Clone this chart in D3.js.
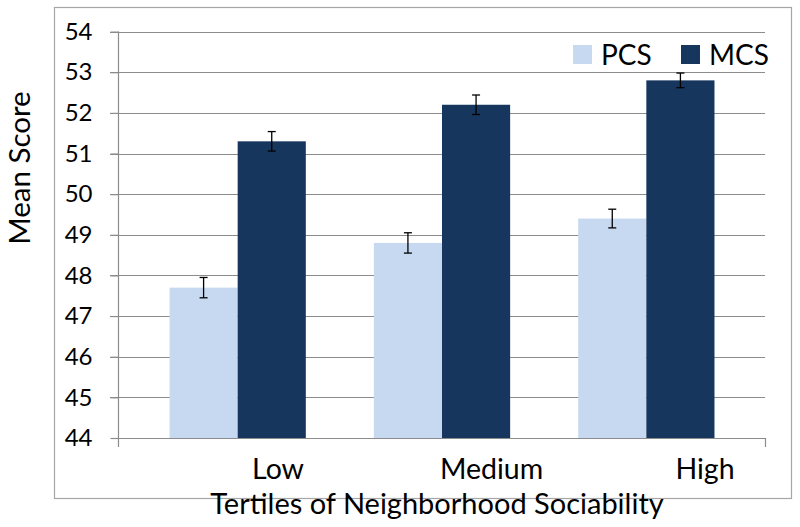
<!DOCTYPE html>
<html>
<head>
<meta charset="utf-8">
<script src="https://cdn.jsdelivr.net/npm/d3@7"></script>
<style>
  html, body { margin: 0; padding: 0; background: #ffffff; }
  svg { display: block; font-family: Lato, "Open Sans", sans-serif; }
</style>
</head>
<body>
<svg id="chart" width="800" height="527"></svg>
<script>
// ---- data ----
const categories = ["Low", "Medium", "High"];
const seriesNames = ["PCS", "MCS"];
const pcsValues = [47.7, 48.8, 49.4];
const mcsValues = [51.3, 52.2, 52.8];
const pcsErrors = [0.25, 0.25, 0.23];
const mcsErrors = [0.24, 0.24, 0.18];
const yTicks = [44, 45, 46, 47, 48, 49, 50, 51, 52, 53, 54];
const xTitle = "Tertiles of Neighborhood Sociability";
const yTitle = "Mean Score";

const colors = { PCS: "#c6d9f1", MCS: "#17365d" };

const rows = categories.map((c, i) => ({
  cat: c,
  values: [
    { key: "PCS", v: pcsValues[i], e: pcsErrors[i] },
    { key: "MCS", v: mcsValues[i], e: mcsErrors[i] }
  ]
}));

const svg = d3.select("#chart");

// outer border
svg.append("rect")
  .attr("x", 54.5).attr("y", 7.5)
  .attr("width", 737).attr("height", 491)
  .attr("fill", "none").attr("stroke", "#a6a6a6").attr("stroke-width", 1.2);

const plotLeft = 118, plotRight = 765;
const y = d3.scaleLinear().domain([44, 54]).range([438, 31.6]);
const x0 = d3.scaleBand().domain(categories).range([135.5, 748.5]).paddingInner(0.333).paddingOuter(0.1665);
const x1 = d3.scaleBand().domain(seriesNames).range([0, x0.bandwidth()]);

// gridlines
svg.append("g").selectAll("line")
  .data(yTicks.filter(t => t !== 44))
  .join("line")
  .attr("x1", plotLeft - 8).attr("x2", plotRight)
  .attr("y1", d => Math.round(y(d)) + 0.5).attr("y2", d => Math.round(y(d)) + 0.5)
  .attr("stroke", "#8c8c8c").attr("stroke-width", 1.2);

// y axis
const yAxis = svg.append("g")
  .attr("transform", `translate(${plotLeft + 0.5},0)`)
  .call(d3.axisLeft(y).tickValues(yTicks).tickSize(8).tickPadding(18).tickFormat(d3.format("d")));
yAxis.select(".domain").attr("stroke", "#8c8c8c").attr("stroke-width", 1.2)
  .attr("d", `M0,${y(54)}V${y(44) + 9}`);
yAxis.selectAll(".tick line").attr("stroke", "#8c8c8c").attr("stroke-width", 1.2);
yAxis.selectAll(".tick text").attr("font-size", 24).attr("fill", "#000")
  .attr("font-family", "Lato, sans-serif");

// bars
const groups = svg.append("g").selectAll("g")
  .data(rows).join("g")
  .attr("transform", d => `translate(${x0(d.cat)},0)`);

groups.selectAll("rect")
  .data(d => d.values).join("rect")
  .attr("x", d => x1(d.key))
  .attr("width", x1.bandwidth())
  .attr("y", d => y(d.v))
  .attr("height", d => y(44) - y(d.v))
  .attr("fill", d => colors[d.key]);

// x axis line
svg.append("path")
  .attr("d", `M${plotLeft},${y(44) + 0.5}H${plotRight + 0.5}V${y(44) + 9}`)
  .attr("fill", "none").attr("stroke", "#8c8c8c").attr("stroke-width", 1.2);

// error bars
const eb = groups.selectAll("g.err")
  .data(d => d.values).join("g").attr("class", "err")
  .attr("stroke", "#000").attr("stroke-width", 1.3);
eb.append("line")
  .attr("x1", d => x1(d.key) + x1.bandwidth() / 2)
  .attr("x2", d => x1(d.key) + x1.bandwidth() / 2)
  .attr("y1", d => y(d.v + d.e)).attr("y2", d => y(d.v - d.e));
eb.append("line")
  .attr("x1", d => x1(d.key) + x1.bandwidth() / 2 - 4)
  .attr("x2", d => x1(d.key) + x1.bandwidth() / 2 + 4)
  .attr("y1", d => y(d.v + d.e)).attr("y2", d => y(d.v + d.e));
eb.append("line")
  .attr("x1", d => x1(d.key) + x1.bandwidth() / 2 - 4)
  .attr("x2", d => x1(d.key) + x1.bandwidth() / 2 + 4)
  .attr("y1", d => y(d.v - d.e)).attr("y2", d => y(d.v - d.e));

// category labels (offset to the right as in the original)
const xl = d3.scalePoint().domain(categories).range([278, 705]);
svg.append("g").selectAll("text")
  .data(categories).join("text")
  .attr("x", d => xl(d)).attr("y", 479)
  .attr("text-anchor", "middle")
  .attr("font-size", 28.5).attr("fill", "#000")
  .text(d => d);

// x title
svg.append("text")
  .attr("x", 437).attr("y", 514)
  .attr("text-anchor", "middle")
  .attr("font-size", 29).attr("fill", "#000")
  .text(xTitle);

// y title
svg.append("text")
  .attr("transform", "translate(30,168) rotate(-90)")
  .attr("text-anchor", "middle")
  .attr("font-size", 29.5).attr("fill", "#000")
  .text(yTitle);

// legend
const legend = svg.append("g").selectAll("g")
  .data(seriesNames).join("g")
  .attr("transform", (d, i) => `translate(${573 + i * 108},0)`);
legend.append("rect")
  .attr("x", 0).attr("y", 45).attr("width", 19).attr("height", 19)
  .attr("fill", d => colors[d]);
legend.append("text")
  .attr("x", 28).attr("y", 64.5)
  .attr("font-size", 28).attr("fill", "#000")
  .text(d => d);
</script>
</body>
</html>
